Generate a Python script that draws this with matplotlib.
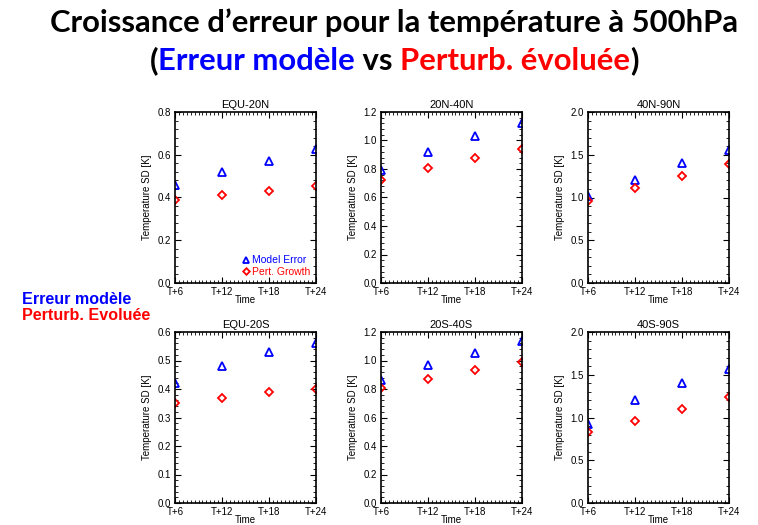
import numpy as np
import matplotlib
matplotlib.use("Agg")
import matplotlib.pyplot as plt
from matplotlib.ticker import MultipleLocator, AutoMinorLocator

# donnees
echeances = [6, 12, 18, 24]
etiquettes = ["T+6", "T+12", "T+18", "T+24"]
regions = ["EQU-20N", "20N-40N", "40N-90N", "EQU-20S", "20S-40S", "40S-90S"]
model_error = {
    "EQU-20N": [0.46, 0.52, 0.57, 0.625],
    "20N-40N": [0.79, 0.92, 1.03, 1.12],
    "40N-90N": [1.02, 1.21, 1.40, 1.56],
    "EQU-20S": [0.42, 0.48, 0.53, 0.56],
    "20S-40S": [0.86, 0.97, 1.05, 1.14],
    "40S-90S": [0.92, 1.21, 1.40, 1.57],
}
pert_growth = {
    "EQU-20N": [0.39, 0.41, 0.43, 0.455],
    "20N-40N": [0.72, 0.81, 0.88, 0.94],
    "40N-90N": [0.96, 1.11, 1.25, 1.39],
    "EQU-20S": [0.35, 0.37, 0.39, 0.40],
    "20S-40S": [0.81, 0.87, 0.93, 0.99],
    "40S-90S": [0.83, 0.96, 1.10, 1.24],
}
ymax = {"EQU-20N": 0.8, "20N-40N": 1.2, "40N-90N": 2.0,
        "EQU-20S": 0.6, "20S-40S": 1.2, "40S-90S": 2.0}
ystep = {"EQU-20N": 0.2, "20N-40N": 0.2, "40N-90N": 0.5,
         "EQU-20S": 0.1, "20S-40S": 0.2, "40S-90S": 0.5}

plt.rcParams["font.family"] = ["Liberation Sans", "DejaVu Sans"]

fig = plt.figure(figsize=(7.58, 5.25), dpi=100)

lefts = [175, 381, 588]
bottoms = [283, 503]
W, H = 758.0, 525.0

for i, reg in enumerate(regions):
    col = i % 3
    row = i // 3
    ax = fig.add_axes([lefts[col] / W, 1 - bottoms[row] / H, 141 / W, 171 / H])
    ax.plot(echeances, model_error[reg], ls="none", marker="^", ms=5.5,
            mfc="none", mec="blue", mew=1.3, label="Model Error")
    ax.plot(echeances, pert_growth[reg], ls="none", marker="D", ms=4.2,
            mfc="none", mec="red", mew=1.3, label="Pert. Growth")
    ax.set_xlim(6, 24)
    ax.set_ylim(0, ymax[reg])
    ax.set_xticks(echeances)
    ax.set_xticklabels(etiquettes)
    ax.xaxis.set_minor_locator(MultipleLocator(0.5))
    ax.yaxis.set_major_locator(MultipleLocator(ystep[reg]))
    ax.yaxis.set_minor_locator(AutoMinorLocator(5))
    ax.yaxis.set_major_formatter(plt.FormatStrFormatter("%.1f"))
    ax.tick_params(which="both", direction="in", top=True, right=True,
                   labelsize=7, colors="black", pad=3)
    ax.tick_params(which="major", length=4, width=0.8)
    ax.tick_params(which="minor", length=2, width=0.6)
    for s in ax.spines.values():
        s.set_linewidth(1.2)
    ax.set_title(reg, fontsize=8, pad=3)
    ax.set_ylabel("Temperature SD [K]", fontsize=7, labelpad=4)
    ax.set_xlabel("Time", fontsize=7, labelpad=-1.5)
    if i == 0:
        leg = ax.legend(loc="lower right", fontsize=7.5, frameon=False,
                        handlelength=0.6, handletextpad=0.2, markerscale=0.8,
                        borderaxespad=0.2, labelspacing=0.15)
        for txt, c in zip(leg.get_texts(), ["blue", "red"]):
            txt.set_color(c)

# titre
fig.text(394 / W, 1 - 23 / H, "Croissance d\u2019erreur pour la température à 500hPa",
         ha="center", va="center", fontsize=22.3, fontweight="bold",
         family=["Lato", "DejaVu Sans"])

# deuxieme ligne en couleurs
morceaux = [("(", "black"), ("Erreur modèle", "blue"), (" vs ", "black"),
            ("Perturb. évoluée", "red"), (")", "black")]
fig.canvas.draw()
rend = fig.canvas.get_renderer()
objs = []
for s, c in morceaux:
    t = fig.text(0, 1 - 61 / H, s, ha="left", va="center", fontsize=22.3,
                 fontweight="bold", color=c, family=["Lato", "DejaVu Sans"])
    objs.append(t)
largeurs = [t.get_window_extent(rend).width for t in objs]
x = 394 - sum(largeurs) / 2.0
for t, w in zip(objs, largeurs):
    t.set_x(x / W)
    x += w

fig.text(22 / W, 1 - 300 / H, "Erreur modèle", color="blue", fontsize=11.6,
         fontweight="bold", ha="left", va="center")
fig.text(22 / W, 1 - 316 / H, "Perturb. Evoluée", color="red", fontsize=11.6,
         fontweight="bold", ha="left", va="center")

fig.savefig("out.png", dpi=100)
